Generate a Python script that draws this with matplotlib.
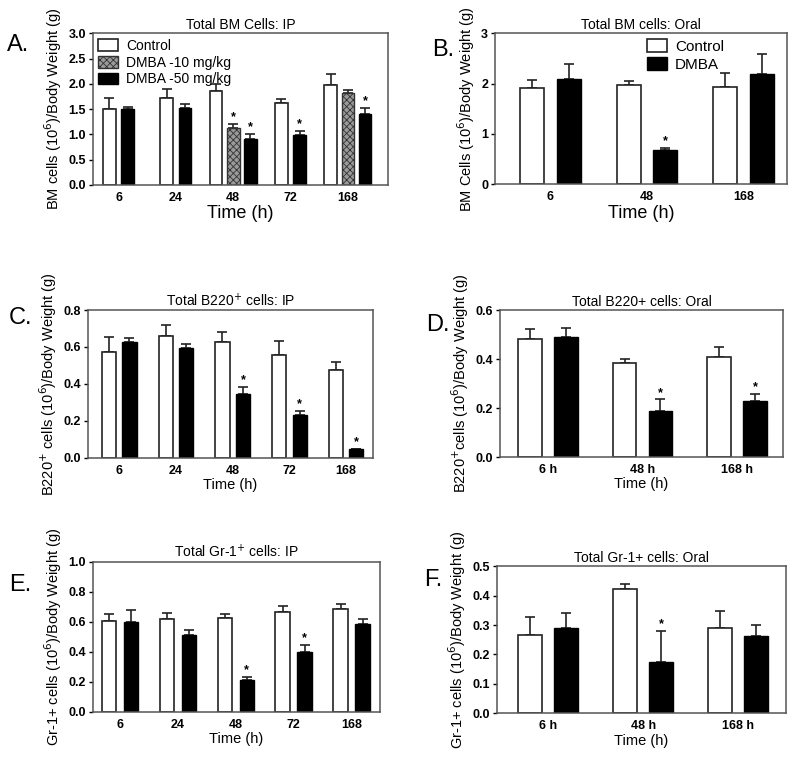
import matplotlib
matplotlib.use('Agg')
import matplotlib.pyplot as plt
from matplotlib.patches import Patch
import numpy as np

plt.rcParams['font.family'] = ['Liberation Sans', 'DejaVu Sans']
plt.rcParams['hatch.linewidth'] = 0.6

# ---- data ----
# A: Total BM cells, IP
a_times = ['6', '24', '48', '72', '168']
a_ctrl = [1.50, 1.72, 1.85, 1.63, 1.98]
a_ctrl_err = [0.22, 0.17, 0.15, 0.07, 0.21]
a_d10 = [None, None, 1.13, None, 1.82]
a_d10_err = [None, None, 0.07, None, 0.05]
a_d50 = [1.50, 1.52, 0.91, 0.98, 1.41]
a_d50_err = [0.05, 0.09, 0.10, 0.08, 0.11]
a_star10 = [False, False, True, False, False]
a_star50 = [False, False, True, True, True]

# B: Total BM cells, oral
b_times = ['6', '48', '168']
b_ctrl = [1.92, 1.97, 1.94]
b_ctrl_err = [0.15, 0.08, 0.27]
b_dmba = [2.09, 0.69, 2.19]
b_dmba_err = [0.30, 0.03, 0.39]
b_star = [False, True, False]

# C: B220+ cells, IP
c_times = ['6', '24', '48', '72', '168']
c_ctrl = [0.572, 0.662, 0.627, 0.556, 0.473]
c_ctrl_err = [0.080, 0.058, 0.055, 0.076, 0.047]
c_dmba = [0.626, 0.593, 0.347, 0.233, 0.046]
c_dmba_err = [0.020, 0.025, 0.037, 0.020, 0.004]
c_star = [False, False, True, True, True]

# D: B220+ cells, oral
d_times = ['6 h', '48 h', '168 h']
d_ctrl = [0.481, 0.383, 0.410]
d_ctrl_err = [0.040, 0.018, 0.041]
d_dmba = [0.488, 0.190, 0.228]
d_dmba_err = [0.038, 0.045, 0.028]
d_star = [False, True, True]

# E: Gr-1+ cells, IP
e_times = ['6', '24', '48', '72', '168']
e_ctrl = [0.603, 0.618, 0.627, 0.665, 0.685]
e_ctrl_err = [0.047, 0.037, 0.027, 0.040, 0.032]
e_dmba = [0.600, 0.513, 0.213, 0.398, 0.585]
e_dmba_err = [0.080, 0.033, 0.018, 0.045, 0.032]
e_star = [False, False, True, True, False]

# F: Gr-1+ cells, oral
f_times = ['6 h', '48 h', '168 h']
f_ctrl = [0.265, 0.421, 0.290]
f_ctrl_err = [0.063, 0.017, 0.059]
f_dmba = [0.290, 0.174, 0.262]
f_dmba_err = [0.050, 0.105, 0.038]
f_star = [False, True, False]

fig = plt.figure(figsize=(8, 7.58), dpi=100)

EDGE = '#222222'


def bar(ax, x, h, err, w, style, star=False, ymax=1.0):
    if style == 'ctrl':
        ax.bar(x, h, w, color='white', edgecolor=EDGE, linewidth=1.2, zorder=2)
    elif style == 'd10':
        ax.bar(x, h, w, color='#9a9a9a', edgecolor='#333333', hatch='xxxxx',
               linewidth=1.0, zorder=2)
    else:
        ax.bar(x, h, w, color='black', edgecolor='black', linewidth=1.0, zorder=2)
    ax.errorbar(x, h, yerr=[[0], [err]], fmt='none', ecolor=EDGE,
                elinewidth=1.2, capsize=3.5, capthick=1.2, zorder=1)
    if star:
        ax.text(x, h + err + ymax * 0.005, '*', ha='center', va='bottom',
                fontsize=9, fontweight='bold')


def style_axes(ax, ylim, yticks, fmt, labels, xlim, title, ylabel, xsize=10.5):
    ax.set_xlim(*xlim)
    ax.set_ylim(*ylim)
    ax.set_yticks(yticks)
    ax.set_yticklabels([fmt.format(t) for t in yticks], fontweight='bold', fontsize=9)
    ax.set_xticks(range(len(labels)))
    ax.set_xticklabels(labels, fontweight='bold', fontsize=9)
    ax.tick_params(axis='x', length=0, pad=5)
    ax.tick_params(axis='y', length=3, width=1, pad=2)
    for s in ax.spines.values():
        s.set_color('#555555')
        s.set_linewidth(1.1)
    ax.set_title(title, fontsize=10, pad=3)
    ax.set_ylabel(ylabel, fontsize=10.5, labelpad=3)
    ax.set_xlabel('Time (h)', fontsize=xsize, labelpad=1)


def two_series(ax, ctrl, ctrl_err, dmba, dmba_err, stars, w, off, ymax):
    for i in range(len(ctrl)):
        bar(ax, i - off, ctrl[i], ctrl_err[i], w, 'ctrl', ymax=ymax)
        bar(ax, i + off, dmba[i], dmba_err[i], w, 'dmba', stars[i], ymax=ymax)


# ---- A ----
axA = fig.add_axes([0.116, 0.756, 0.369, 0.200])
w = 0.22
for i in range(len(a_times)):
    if a_d10[i] is None:
        bar(axA, i - 0.16, a_ctrl[i], a_ctrl_err[i], w, 'ctrl', ymax=3)
        bar(axA, i + 0.16, a_d50[i], a_d50_err[i], w, 'd50', a_star50[i], ymax=3)
    else:
        bar(axA, i - 0.30, a_ctrl[i], a_ctrl_err[i], w, 'ctrl', ymax=3)
        bar(axA, i, a_d10[i], a_d10_err[i], w, 'd10', a_star10[i], ymax=3)
        bar(axA, i + 0.30, a_d50[i], a_d50_err[i], w, 'd50', a_star50[i], ymax=3)
style_axes(axA, (0, 3.0), [0, 0.5, 1.0, 1.5, 2.0, 2.5, 3.0], '{:.1f}', a_times,
           (-0.45, 4.7), 'Total BM Cells: IP', 'BM cells (10$^6$)/Body Weight (g)',
           xsize=13)
handles = [Patch(facecolor='white', edgecolor=EDGE, linewidth=1.2),
           Patch(facecolor='#9a9a9a', edgecolor='#333333', hatch='xxxxx'),
           Patch(facecolor='black', edgecolor='black')]
axA.legend(handles, ['Control', 'DMBA -10 mg/kg', 'DMBA -50 mg/kg'], loc='upper left',
           frameon=False, fontsize=10, handlelength=1.4, handleheight=0.9,
           borderaxespad=0.0, labelspacing=0.2, handletextpad=0.6)

# ---- B ----
axB = fig.add_axes([0.619, 0.757, 0.365, 0.199])
two_series(axB, b_ctrl, b_ctrl_err, b_dmba, b_dmba_err, b_star, 0.25, 0.19, 3)
style_axes(axB, (0, 3), [0, 1, 2, 3], '{:d}', b_times, (-0.57, 2.45),
           'Total BM cells: Oral', 'BM Cells (10$^6$)/Body Weight (g)', xsize=13)
axB.legend(handles[::2], ['Control', 'DMBA'], loc='upper left',
           bbox_to_anchor=(0.5, 1.0), frameon=False, fontsize=11,
           handlelength=1.3, handleheight=0.9, borderaxespad=0.0,
           labelspacing=0.2, handletextpad=0.5)

# ---- C ----
axC = fig.add_axes([0.110, 0.396, 0.356, 0.195])
two_series(axC, c_ctrl, c_ctrl_err, c_dmba, c_dmba_err, c_star, 0.25, 0.18, 0.8)
style_axes(axC, (0, 0.8), [0, 0.2, 0.4, 0.6, 0.8], '{:.1f}', c_times, (-0.55, 4.47),
           'Total B220$^{+}$ cells: IP', 'B220$^{+}$ cells (10$^6$)/Body Weight (g)')

# ---- D ----
axD = fig.add_axes([0.625, 0.397, 0.354, 0.194])
two_series(axD, d_ctrl, d_ctrl_err, d_dmba, d_dmba_err, d_star, 0.25, 0.19, 0.6)
style_axes(axD, (0, 0.6), [0, 0.2, 0.4, 0.6], '{:.1f}', d_times, (-0.51, 2.49),
           'Total B220+ cells: Oral', 'B220$^{+}$cells (10$^6$)/Body Weight (g)')

# ---- E ----
axE = fig.add_axes([0.116, 0.061, 0.359, 0.198])
two_series(axE, e_ctrl, e_ctrl_err, e_dmba, e_dmba_err, e_star, 0.25, 0.19, 1.0)
style_axes(axE, (0, 1.0), [0, 0.2, 0.4, 0.6, 0.8, 1.0], '{:.1f}', e_times, (-0.47, 4.49),
           'Total Gr-1$^{+}$ cells: IP', 'Gr-1+ cells (10$^6$)/Body Weight (g)')

# ---- F ----
axF = fig.add_axes([0.621, 0.059, 0.361, 0.194])
two_series(axF, f_ctrl, f_ctrl_err, f_dmba, f_dmba_err, f_star, 0.25, 0.19, 0.5)
style_axes(axF, (0, 0.5), [0, 0.1, 0.2, 0.3, 0.4, 0.5], '{:.1f}', f_times, (-0.54, 2.5),
           'Total Gr-1+ cells: Oral', 'Gr-1+ cells (10$^6$)/Body Weight (g)')

# panel letters
for lab, x, y in [('A.', 18, 45), ('B.', 443, 50), ('C.', 20, 318),
                  ('D.', 438, 325), ('E.', 20, 585), ('F.', 433, 580)]:
    fig.text(x / 800, 1 - y / 758, lab, fontsize=17, ha='center', va='center')

fig.savefig('out.png', dpi=100)
